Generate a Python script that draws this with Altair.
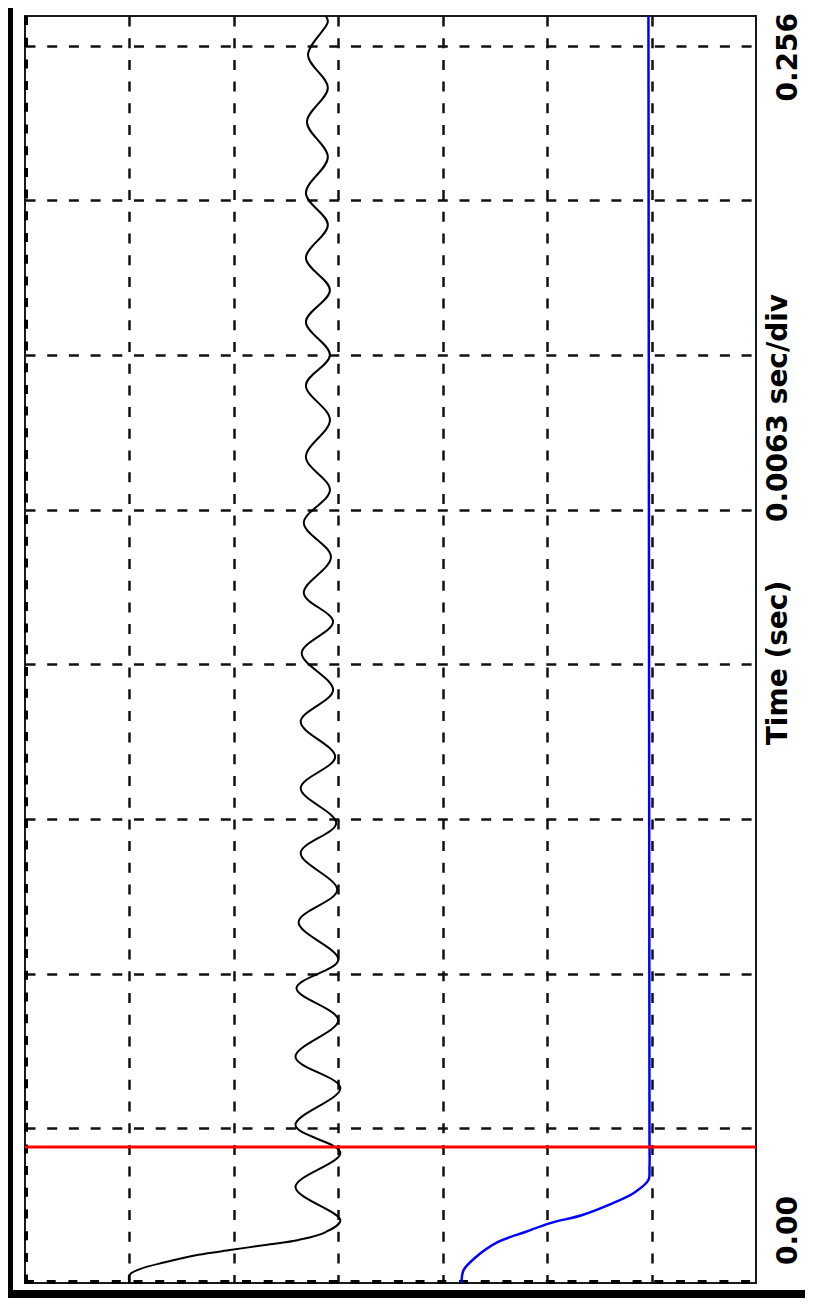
import altair as alt
import pandas as pd

# ---- data (time in s, amplitude in divisions) ----
black_t = [0.0, 0.0016, 0.0028, 0.0042, 0.0057, 0.0067, 0.0077, 0.0087, 0.0103,
           0.0127, 0.0194, 0.0263, 0.0319, 0.0394, 0.0457, 0.0531, 0.0596,
           0.0653, 0.0729, 0.0794, 0.0869, 0.0929, 0.1000, 0.1063, 0.1134,
           0.1198, 0.1273, 0.1336, 0.1394, 0.1467, 0.1536, 0.1602, 0.1669,
           0.1744, 0.1814, 0.1875, 0.1942, 0.2006, 0.2071, 0.2138, 0.2202,
           0.2275, 0.2346, 0.2415, 0.2481, 0.2548, 0.2560]
black_v = [1.00, 1.00, 1.10, 1.34, 1.66, 1.98, 2.30, 2.62, 2.88,
           3.02, 2.59, 3.02, 2.59, 3.02, 2.59, 3.00, 2.60,
           3.00, 2.62, 2.99, 2.64, 2.98, 2.64, 2.97, 2.64,
           2.95, 2.65, 2.95, 2.67, 2.93, 2.67, 2.92, 2.69,
           2.92, 2.69, 2.92, 2.69, 2.92, 2.69, 2.90, 2.69,
           2.90, 2.70, 2.90, 2.71, 2.90, 2.88]

blue_t = [0.0, 0.0026, 0.0051, 0.0083, 0.0103, 0.0121, 0.0137, 0.0158, 0.0182,
          0.0208, 0.0232, 0.0300, 0.2560]
blue_v = [4.18, 4.20, 4.31, 4.53, 4.79, 5.03, 5.33, 5.59, 5.83,
          5.97, 5.98, 5.98, 5.97]

marker_t = [0.0275]

x_div_ticks = [1, 2, 3, 4, 5, 6]
t_grid_ticks = [0.03125, 0.0625, 0.09375, 0.125, 0.15625, 0.1875, 0.21875, 0.25]

tick_labels = ["0.00", "0.256"]
tick_label_t = [0.0, 0.256]
axis_titles = ["Time (sec)", "0.0063 sec/div"]

# ---- layout ----
W, H = 731, 1267
FONT = "DejaVu Sans"
FS = 28

xs = alt.Scale(domain=[0, 7], nice=False, zero=False)
ys = alt.Scale(domain=[0, 0.256], nice=False, zero=False)

x_axis = alt.Axis(values=x_div_ticks, grid=True, labels=False, ticks=False,
                  domain=False, title=None, gridDash=[10, 11.7],
                  gridColor="#111111", gridWidth=2.5)
y_axis = alt.Axis(values=t_grid_ticks, grid=True, labels=False, ticks=False,
                  domain=False, title=None, gridDash=[10, 11.7],
                  gridColor="#111111", gridWidth=2.5)


def X():
    return alt.X("v:Q", scale=xs, axis=x_axis)


def Y():
    return alt.Y("t:Q", scale=ys, axis=y_axis)


black_df = pd.DataFrame({"t": black_t, "v": black_v})
blue_df = pd.DataFrame({"t": blue_t, "v": blue_v})
marker_df = pd.DataFrame({"t": marker_t})
labels_df = pd.DataFrame({"t": tick_label_t, "label": tick_labels})
titles_df = pd.DataFrame({"label": axis_titles})
one = pd.DataFrame({"a": [0]})

# decorations: dark border strips below / left of the white panel
black_bottom = alt.Chart(one).mark_rect(color="black").encode(
    x=alt.value(-20), x2=alt.value(800), y=alt.value(H + 7), y2=alt.value(H + 30))
black_left = alt.Chart(one).mark_rect(color="black").encode(
    x=alt.value(-20), x2=alt.value(-12), y=alt.value(-10), y2=alt.value(H + 30))

# thick dashed edges (left and bottom)
edge_left = alt.Chart(one).mark_rule(color="black", strokeWidth=4,
                                     strokeDash=[9, 12.7]).encode(
    x=alt.value(1), y=alt.value(0), y2=alt.value(H))
edge_bottom = alt.Chart(one).mark_rule(color="black", strokeWidth=4,
                                       strokeDash=[9, 12.7]).encode(
    x=alt.value(0), x2=alt.value(W), y=alt.value(H - 1))

black_line = alt.Chart(black_df).mark_line(
    color="black", strokeWidth=2, interpolate="catmull-rom").encode(
    x=X(), y=Y(), order=alt.Order("t:Q"))
blue_line = alt.Chart(blue_df).mark_line(
    color="#0000ff", strokeWidth=2.5, interpolate="catmull-rom").encode(
    x=X(), y=Y(), order=alt.Order("t:Q"))
marker = alt.Chart(marker_df).mark_rule(color="#ff0000", strokeWidth=3).encode(
    y=Y())

lab0 = alt.Chart(labels_df).transform_filter("datum.t == 0").mark_text(
    angle=270, align="left", baseline="alphabetic", dx=18, font=FONT,
    fontWeight="bold", fontSize=FS, color="black").encode(
    y=Y(), x=alt.value(W + 41), text="label:N")
lab1 = alt.Chart(labels_df).transform_filter("datum.t > 0").mark_text(
    angle=270, align="right", baseline="alphabetic", dx=3, font=FONT,
    fontWeight="bold", fontSize=FS, color="black").encode(
    y=Y(), x=alt.value(W + 41), text="label:N")

title0 = alt.Chart(titles_df).transform_filter("datum.label == 'Time (sec)'").mark_text(
    angle=270, align="center", baseline="alphabetic", font=FONT,
    fontWeight="bold", fontSize=FS, color="black").encode(
    y=alt.value(647), x=alt.value(W + 31), text="label:N")
title1 = alt.Chart(titles_df).transform_filter("datum.label != 'Time (sec)'").mark_text(
    angle=270, align="center", baseline="alphabetic", font=FONT,
    fontWeight="bold", fontSize=FS, color="black").encode(
    y=alt.value(392), x=alt.value(W + 31), text="label:N")

chart = alt.layer(
    black_bottom, black_left, edge_left, edge_bottom,
    black_line, blue_line, marker, lab0, lab1, title0, title1
).properties(
    width=W, height=H,
    padding={"left": 17, "top": 8, "right": 49, "bottom": 15},
    autosize=alt.AutoSizeParams(type="none"),
).configure(background="white").configure_view(
    stroke="#1a1a1a", strokeWidth=2, fill="white")

chart.save("out.html", embed_options={"renderer": "svg", "actions": False})
